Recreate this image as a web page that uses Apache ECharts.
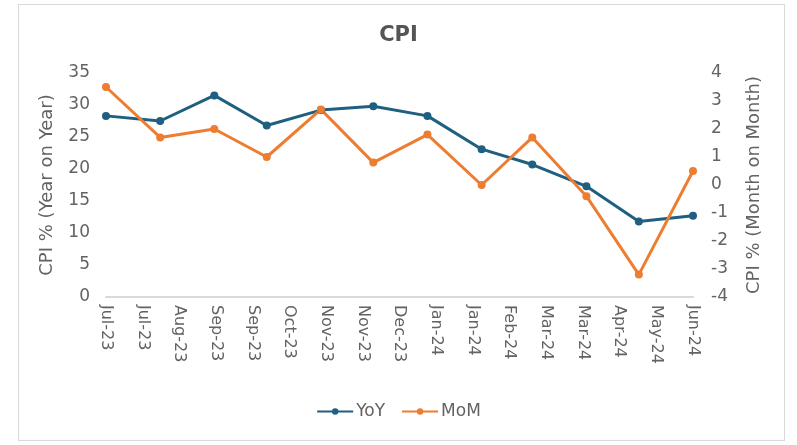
<!DOCTYPE html>
<html>
<head>
<meta charset="utf-8">
<script src="https://cdn.jsdelivr.net/npm/echarts@6/dist/echarts.min.js"></script>
<style>
  html, body { margin: 0; padding: 0; background: #fff; }
  #chart { width: 797px; height: 445px; }
  .frame { position: absolute; left: 18px; top: 4px; width: 765px; height: 435px; border: 1px solid #d9d9d9; pointer-events: none; }
</style>
</head>
<body>
<div id="chart"></div>
<div class="frame"></div>
<script>
// monthly observations
const months = ['2023-07-01', '2023-08-01', '2023-09-01', '2023-10-01', '2023-11-01', '2023-12-01',
  '2024-01-01', '2024-02-01', '2024-03-01', '2024-04-01', '2024-05-01', '2024-06-01']
const yoy = [28.3, 27.5, 31.5, 26.8, 29.2, 29.8, 28.3, 23.1, 20.7, 17.3, 11.8, 12.7]
const mom = [3.5, 1.7, 2.0, 1.0, 2.7, 0.8, 1.8, 0.0, 1.7, -0.4, -3.2, 0.5]

// date axis ticks (every 21 days from Jul 1 2023)
const tickLabels = ['Jul-23', 'Jul-23', 'Aug-23', 'Sep-23', 'Sep-23', 'Oct-23', 'Nov-23', 'Nov-23', 'Dec-23',
  'Jan-24', 'Jan-24', 'Feb-24', 'Mar-24', 'Mar-24', 'Apr-24', 'May-24', 'Jun-24']
const tickStep = 21

const DAY = 86400000
const start = Date.parse(months[0])
const dayOf = d => Math.round((Date.parse(d) - start) / DAY)

const textColor = '#636363'
const font = 'DejaVu Sans'

const chart = echarts.init(document.getElementById('chart'))

chart.setOption({
  animation: false,
  textStyle: { fontFamily: font },
  title: {
    text: 'CPI',
    left: 'center',
    top: 20,
    textStyle: { fontSize: 21, fontWeight: 'bold', color: '#555555', fontFamily: font }
  },
  legend: {
    bottom: 20,
    left: 'center',
    itemWidth: 36,
    itemHeight: 8,
    itemGap: 16,
    textStyle: { fontSize: 17, color: textColor, fontFamily: font, padding: [0, 0, 0, -2] },
    data: ['YoY', 'MoM']
  },
  grid: { left: 106, right: 104, top: 73, bottom: 148 },
  xAxis: {
    type: 'value',
    min: 0,
    max: (tickLabels.length - 1) * tickStep,
    interval: tickStep,
    splitLine: { show: false },
    axisTick: { show: false },
    axisLine: { lineStyle: { color: '#d9d9d9', width: 2 } },
    axisLabel: {
      rotate: -90,
      margin: 8,
      showMinLabel: true,
      showMaxLabel: true,
      color: textColor,
      fontSize: 16,
      formatter: v => tickLabels[Math.round(v / tickStep)]
    }
  },
  yAxis: [
    {
      type: 'value',
      min: 0,
      max: 35,
      interval: 5,
      name: 'CPI % (Year on Year)',
      nameLocation: 'middle',
      nameGap: 50,
      nameTextStyle: { fontSize: 18, color: textColor },
      splitLine: { show: false },
      axisLine: { show: false },
      axisTick: { show: false },
      axisLabel: { color: textColor, fontSize: 17, margin: 16 }
    },
    {
      type: 'value',
      min: -4,
      max: 4,
      interval: 1,
      name: 'CPI % (Month on Month)',
      nameLocation: 'middle',
      nameGap: 52,
      nameRotate: 90,
      nameTextStyle: { fontSize: 18, color: textColor },
      splitLine: { show: false },
      axisLine: { show: false },
      axisTick: { show: false },
      axisLabel: { color: textColor, fontSize: 17, margin: 18 }
    }
  ],
  series: [
    {
      name: 'YoY',
      type: 'line',
      yAxisIndex: 0,
      data: months.map((m, i) => [dayOf(m), yoy[i]]),
      symbol: 'circle',
      symbolSize: 8,
      lineStyle: { color: '#1f5f80', width: 3 },
      itemStyle: { color: '#1f5f80' }
    },
    {
      name: 'MoM',
      type: 'line',
      yAxisIndex: 1,
      data: months.map((m, i) => [dayOf(m), mom[i]]),
      symbol: 'circle',
      symbolSize: 8,
      lineStyle: { color: '#ed7d31', width: 3 },
      itemStyle: { color: '#ed7d31' }
    }
  ]
})
</script>
</body>
</html>
